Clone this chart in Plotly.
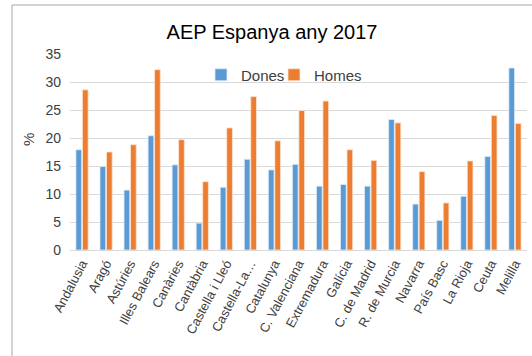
import plotly.graph_objects as go

categories = ["Andalusia", "Aragó", "Astúries", "Illes Balears", "Canàries", "Cantàbria",
              "Castella i Lleó", "Castella-La…", "Catalunya", "C. Valenciana", "Extremadura",
              "Galícia", "C. de Madrid", "R. de Murcia", "Navarra", "País Basc", "La Rioja",
              "Ceuta", "Melilla"]
dones = [17.9, 14.9, 10.7, 20.4, 15.2, 4.8, 11.2, 16.2, 14.3, 15.3, 11.4,
         11.7, 11.4, 23.3, 8.2, 5.3, 9.6, 16.7, 32.5]
homes = [28.6, 17.5, 18.8, 32.2, 19.7, 12.2, 21.8, 27.4, 19.5, 24.9, 26.6,
         17.9, 16.0, 22.7, 14.0, 8.4, 15.9, 24.0, 22.6]
yticks = [0, 5, 10, 15, 20, 25, 30, 35]

FONT = "Liberation Sans, Arial, sans-serif"

fig = go.Figure()
fig.add_trace(go.Bar(x=categories, y=dones, name="Dones", legend="legend",
                     marker=dict(color="#5B9BD5", line=dict(color="#DDEBF7", width=0.8))))
fig.add_trace(go.Bar(x=categories, y=homes, name="Homes", legend="legend2",
                     marker=dict(color="#ED7D31", line=dict(color="#FBE5D6", width=0.8))))

L, R, T, B = 70, 5, 54, 106
W, H = 532, 356
pw = W - L - R
ph = H - T - B


def px(x):
    return (x - L) / pw


def py(y):
    return 1 - (y - T) / ph


leg_common = dict(orientation="h", xanchor="left", y=py(75), yanchor="middle",
                  bgcolor="rgba(0,0,0,0)", font=dict(size=15, color="#404040"), itemwidth=30)

fig.update_layout(
    width=W, height=H,
    margin=dict(l=L, r=R, t=T, b=B),
    paper_bgcolor="white", plot_bgcolor="white",
    font=dict(family=FONT, size=13, color="#595959"),
    title=dict(text="AEP Espanya any 2017", x=px(272), xref="paper", xanchor="center",
               y=1 - 32 / H, yanchor="middle", font=dict(size=20, color="#000000", family=FONT)),
    barmode="group", bargap=0.46, bargroupgap=0.12,
    showlegend=True,
    legend=dict(x=px(201), **leg_common),
    legend2=dict(x=px(274), **leg_common),
    xaxis=dict(tickangle=-62, showgrid=False, showline=True, linecolor="#D9D9D9",
               tickfont=dict(size=13, color="#404040"), ticks=""),
    yaxis=dict(range=[0, 35], tickvals=yticks, showgrid=True, gridcolor="#D9D9D9", gridwidth=1,
               zeroline=False, showline=False, tickfont=dict(size=14, color="#404040"),
               ticklabelstandoff=8),
    annotations=[dict(text="%", textangle=-90, xref="paper", yref="paper",
                      x=px(28), y=py(140), xanchor="center", yanchor="middle",
                      showarrow=False, font=dict(size=15, color="#404040"))],
    shapes=[
        dict(type="rect", xref="paper", yref="paper",
             x0=px(12), x1=1.2, y0=py(5), y1=-1.0,
             line=dict(color="#A6A6A6", width=1), fillcolor="rgba(0,0,0,0)", layer="below"),
        dict(type="rect", xref="paper", yref="paper",
             x0=px(213), x1=px(371), y0=py(66), y1=py(85),
             line=dict(width=0), fillcolor="white", layer="between"),
    ],
)

fig.write_html("out.html")
